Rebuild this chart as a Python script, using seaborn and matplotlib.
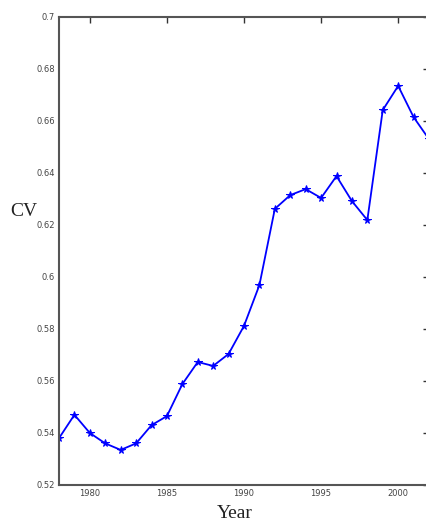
import matplotlib
matplotlib.use("Agg")
import matplotlib.pyplot as plt
import seaborn as sns
import pandas as pd
from matplotlib.ticker import FixedLocator, FixedFormatter

# Coefficient of variation by year
years = [1978, 1979, 1980, 1981, 1982, 1983, 1984, 1985, 1986, 1987, 1988, 1989,
         1990, 1991, 1992, 1993, 1994, 1995, 1996, 1997, 1998, 1999, 2000, 2001, 2002]
cv = [0.538, 0.547, 0.540, 0.536, 0.5335, 0.536, 0.543, 0.5465, 0.5588, 0.5673,
      0.5658, 0.5704, 0.5812, 0.5969, 0.6262, 0.6315, 0.6338, 0.6304, 0.6388,
      0.6292, 0.6219, 0.6642, 0.6735, 0.6615, 0.653]

y_ticks = [0.52, 0.54, 0.56, 0.58, 0.60, 0.62, 0.64, 0.66, 0.68, 0.70]
y_tick_labels = ["0.52", "0.54", "0.56", "0.58", "0.6", "0.62", "0.64", "0.66", "0.68", "0.7"]
x_ticks = [1980, 1985, 1990, 1995, 2000]
x_tick_labels = ["1980", "1985", "1990", "1995", "2000"]

df = pd.DataFrame({"Year": years, "CV": cv})

sns.set_style("white")
plt.rcParams["font.family"] = ["DejaVu Sans"]

W, H = 426, 530
fig = plt.figure(figsize=(W / 100, H / 100), dpi=100)
left, top, bottom, right = 59, 17, 485, 429
ax = fig.add_axes([left / W, 1 - bottom / H, (right - left) / W, (bottom - top) / H])

sns.lineplot(data=df, x="Year", y="CV", ax=ax, color="#0000ff", linewidth=1.3,
             marker="*", markersize=5.5, markeredgecolor="#0000ff", markerfacecolor="#0000ff")

ax.set_xlim(1978, 2002)
ax.set_ylim(0.52, 0.70)
ax.yaxis.set_major_locator(FixedLocator(y_ticks))
ax.yaxis.set_major_formatter(FixedFormatter(y_tick_labels))
ax.xaxis.set_major_locator(FixedLocator(x_ticks))
ax.xaxis.set_major_formatter(FixedFormatter(x_tick_labels))

ax.tick_params(direction="in", length=4, width=1.0, colors="#333333", labelsize=6,
               top=True, right=True, pad=3)
ax.tick_params(axis="both", labelcolor="#444444")
for s in ax.spines.values():
    s.set_visible(True)
    s.set_color("#555555")
    s.set_linewidth(1.5)

ax.set_xlabel("Year", family="Liberation Serif", fontsize=14, color="#222222",
              va="center")
ax.set_ylabel("CV", family="Liberation Serif", fontsize=14, color="#222222",
              rotation=0, ha="center", va="center")
ax.xaxis.set_label_coords((235 - left) / (right - left), -(514 - bottom) / (bottom - top))
ax.yaxis.set_label_coords((24 - left) / (right - left), (bottom - 212) / (bottom - top))

fig.savefig("out.png", dpi=100, facecolor="white")
